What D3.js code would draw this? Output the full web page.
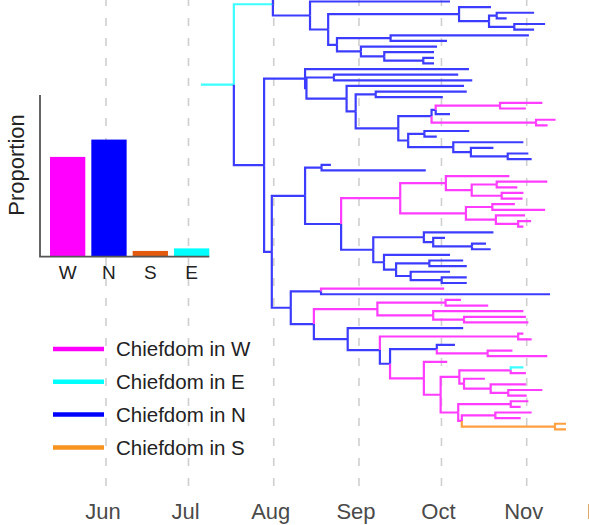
<!DOCTYPE html>
<html>
<head>
<meta charset="utf-8">
<script src="https://cdn.jsdelivr.net/npm/d3@7"></script>
<style>
  html, body { margin: 0; padding: 0; background: #fff; }
  svg { display: block; font-family: "Liberation Sans", Arial, Helvetica, sans-serif; }
</style>
</head>
<body>
<svg id="chart" width="589" height="525"></svg>
<script>
// ---- data -------------------------------------------------------------
const monthLabels = ["Jun", "Jul", "Aug", "Sep", "Oct", "Nov", "Dec"];
const monthStarts = ["2014-06-01", "2014-07-01", "2014-08-01", "2014-09-01",
                     "2014-10-01", "2014-11-01", "2014-12-01"];

// inset: share of the tree assigned to each chiefdom region
const regions = ["W", "N", "S", "E"];
const proportions = [0.432, 0.507, 0.025, 0.036];

const legendStates = ["W", "E", "N", "S"];
const legendLabels = ["Chiefdom in W", "Chiefdom in E", "Chiefdom in N", "Chiefdom in S"];

// time-scaled tree: every node is "(children)State:day", day = days after 1 June 2014,
// State = region of the branch leading into the node
const rootEdgeStartDay = 34.5;
const treeNewick = `
(
 (
  (N:125.0,N:118.0)N:70.5,
  (N:125.1,
   (
    (N:140.0,
     ((N:155.7,N:145.7)N:142.1,(N:159.7,N:155.7)N:148.5)N:139.3
    )N:128.4,
    (
     (N:153.8,N:124.0)N:103.5,
     (N:120.4,
      (N:119.3,(N:119.3,N:119.3)N:115.4)N:101.2
     )N:92.7
    )N:84.0
   )N:80.8
  )N:74.2
 )E:60.7,
 (
  (N:132.0,
   (
    (N:128.1,N:133.2)N:82.9,
    (N:130.2,
     (
      (N:131.2,N:122.5)N:98.1,
      (
       (
        ((W:158.7,W:152.7)W:143.3,N:125.1)N:119.9,
        (W:163.5,W:160.6)W:156.4
       )N:118.4,
       (
        (N:132.1,N:120.3)N:115.8,
        (N:151.8,
         (N:140.9,(N:153.6,N:154.8)N:146.1)N:132.7
        )N:126.3
       )N:109.9
      )N:106.3
     )N:90.8
    )N:87.5
   )N:72.9
  )N:72.4,
  (
   (
    (N:81.8,N:116.3)N:78.4,
    (
     (
      (W:146.7,
       ((W:160.5,W:149.6)W:142.1,(W:151.8,W:151.5)W:143.9)W:133.0
      )W:123.6,
      (
       (W:148.7,W:159.7)W:140.5,
       (W:152.4,(W:154.6,W:151.8)W:149.9)W:141.8
      )W:130.9
     )W:107.0,
     (
      (N:140.9,
       (N:123.3,(N:138.2,N:139.9)N:133.1)N:119.0
      )N:115.6,
      (N:125.1,
       (
        (N:129.9,N:131.2)N:117.6,
        (N:125.1,(N:131.2,N:131.2)N:122.1)N:110.8
       )N:105.5
      )N:101.1
     )N:97.2
    )N:85.5
   )N:72.4,
   (
    (W:123.0,N:161.5)N:78.2,
    (
     (
      (W:129.1,W:139.0)W:123.5,
      (W:151.8,(W:152.7,W:153.6)W:130.2)W:119.0
     )W:98.7,
     (N:129.9,
      (
       (W:151.8,W:154.8)W:149.9,
       (
        (N:126.9,(W:147.8,W:160.5)W:138.8)N:120.3,
        (W:124.1,
         (
          (
           (E:151.8,W:152.7)W:147.2,
           (W:137.8,
            (W:152.7,(W:158.7,W:153.0)W:146.3)W:139.9
           )W:130.2
          )W:128.5,
          (
           (W:153.6,W:150.8)W:147.2,
           (
            (W:154.8,W:150.8)W:141.6,
            (S:167.3,S:167.3)S:163.3
           )W:129.4
          )W:128.1
         )W:121.7
        )W:115.6
       )N:103.3
      )N:99.6
     )N:87.9
    )N:75.6
   )N:67.2
  )N:60.3
 )N:57.5
)E:46.5
`;

// ---- styles -----------------------------------------------------------
const branchColor = { W: "#ff3cff", N: "#3c3cff", E: "#3cffff", S: "#ffa040" };
const legendColor = { W: "#ff00ff", N: "#0000ff", E: "#00ffff", S: "#f7931e" };
const barColor = { W: "#ff00ff", N: "#0000ff", S: "#e35b0e", E: "#00ffff" };

// ---- helpers ----------------------------------------------------------
function parseNewick(str) {
  const s = str.replace(/\s+/g, "");
  let i = 0;
  function node() {
    const n = {};
    if (s[i] === "(") {
      n.children = [];
      i++;
      n.children.push(node());
      while (s[i] === ",") { i++; n.children.push(node()); }
      i++; // closing bracket
    }
    n.state = s[i++];
    i++; // colon
    const m = /^[0-9.]+/.exec(s.slice(i));
    n.day = +m[0];
    i += m[0].length;
    return n;
  }
  return node();
}

const origin = Date.UTC(2014, 5, 1);
const dayToDate = d => new Date(origin + d * 864e5);

// ---- scales -----------------------------------------------------------
const svg = d3.select("#chart");

const x = d3.scaleUtc()
  .domain([new Date("2014-06-01"), new Date("2014-11-01")])
  .range([106, 526.7]);

const root = d3.hierarchy(parseNewick(treeNewick));
const leaves = root.leaves();
// the first two tips sit above the visible area
const yTip = d3.scaleLinear().domain([2, 78]).range([1.5, 429.4]);

leaves.forEach((l, k) => { l.py = yTip(k); });
root.eachAfter(n => {
  if (n.children) n.py = (n.children[0].py + n.children[n.children.length - 1].py) / 2;
  n.px = x(dayToDate(n.data.day));
});

// ---- month gridlines --------------------------------------------------
const monthDates = monthStarts.map(s => new Date(s));
svg.append("g")
  .selectAll("line")
  .data(monthDates)
  .join("line")
  .attr("x1", d => x(d)).attr("x2", d => x(d))
  .attr("y1", 486).attr("y2", 0)
  .attr("stroke", "#cfcfcf")
  .attr("stroke-width", 1.6)
  .attr("stroke-dasharray", "8,12");

svg.append("g")
  .selectAll("text")
  .data(monthDates)
  .join("text")
  .attr("x", d => x(d) - 3)
  .attr("y", 519)
  .attr("text-anchor", "middle")
  .attr("font-size", 22)
  .attr("fill", "#4a4a4a")
  .text((d, i) => monthLabels[i]);

// ---- tree -------------------------------------------------------------
const treeG = svg.append("g")
  .attr("fill", "none")
  .attr("stroke-width", 2.2)
  .attr("stroke-linejoin", "miter");

treeG.append("path")
  .attr("d", `M${x(dayToDate(rootEdgeStartDay))},${root.py}H${root.px}`)
  .attr("stroke", branchColor[root.data.state]);

treeG.selectAll("path.edge")
  .data(root.descendants().filter(d => d.parent))
  .join("path")
  .attr("class", "edge")
  .attr("d", d => `M${d.parent.px},${d.parent.py}V${d.py}H${d.px}`)
  .attr("stroke", d => branchColor[d.data.state]);

// ---- inset bar chart --------------------------------------------------
const xb = d3.scaleBand().domain(regions).range([50, 209.3]).paddingInner(0.146).paddingOuter(0);
const yb = d3.scaleLinear().domain([0, 0.7]).range([256.7, 95]);

svg.append("g")
  .selectAll("rect")
  .data(regions)
  .join("rect")
  .attr("x", d => xb(d))
  .attr("width", xb.bandwidth())
  .attr("y", (d, i) => yb(proportions[i]))
  .attr("height", (d, i) => yb(0) - yb(proportions[i]))
  .attr("fill", d => barColor[d]);

svg.append("path")
  .attr("d", `M40,${yb.range()[1]}V${yb(0)}H${xb.range()[1]}`)
  .attr("fill", "none")
  .attr("stroke", "#555")
  .attr("stroke-width", 1.8);

svg.append("g")
  .selectAll("text")
  .data(regions)
  .join("text")
  .attr("x", d => xb(d) + xb.bandwidth() / 2)
  .attr("y", 278.5)
  .attr("text-anchor", "middle")
  .attr("font-size", 19)
  .attr("fill", "#222")
  .text(d => d);

svg.append("text")
  .attr("transform", "translate(23.5,165) rotate(-90)")
  .attr("text-anchor", "middle")
  .attr("font-size", 22)
  .attr("fill", "#222")
  .text("Proportion");

// ---- legend -----------------------------------------------------------
const legend = svg.append("g")
  .selectAll("g")
  .data(legendStates)
  .join("g")
  .attr("transform", (d, i) => `translate(0,${349 + i * 32.8})`);

legend.append("line")
  .attr("x1", 53).attr("x2", 104)
  .attr("stroke", d => legendColor[d])
  .attr("stroke-width", 4.5);

legend.append("text")
  .attr("x", 116)
  .attr("y", 7.3)
  .attr("font-size", 20.5)
  .attr("fill", "#222")
  .text((d, i) => legendLabels[i]);
</script>
</body>
</html>
